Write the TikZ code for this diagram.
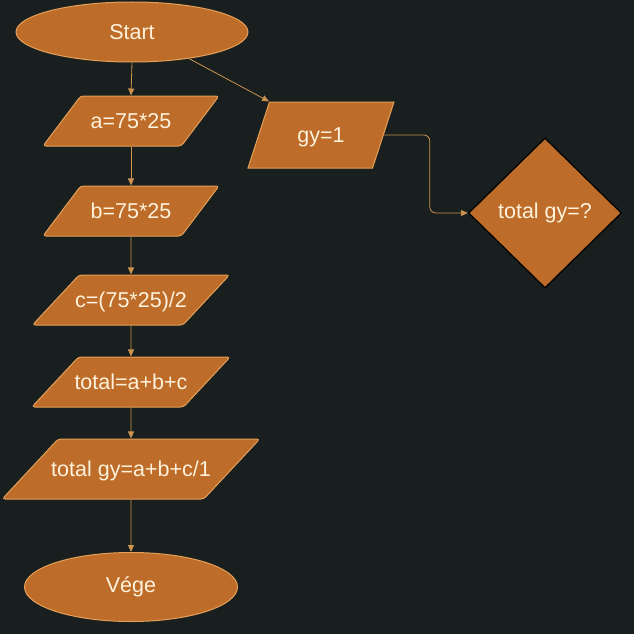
\documentclass[tikz,border=0pt]{standalone}
\usepackage{fontspec}
\setmainfont{Liberation Sans}
\usepackage{tikz}
\usetikzlibrary{shapes.geometric, arrows.meta, positioning, calc}
\definecolor{BgColor}{RGB}{24,31,30}
\definecolor{BoxFill}{RGB}{189,108,41}
\definecolor{BoxLine}{RGB}{228,160,90}
\definecolor{LineColor}{RGB}{204,146,80}
\definecolor{TextColor}{RGB}{255,242,220}
\tikzstyle{shapetext} = [text=TextColor, inner sep=0pt, font=\fontsize{21.5}{25}\selectfont]
\tikzstyle{terminal} = [shapetext, ellipse, draw=BoxLine, fill=BoxFill, line width=1pt]
\tikzstyle{io} = [shapetext, trapezium, trapezium stretches body, trapezium left angle=53, trapezium right angle=127, draw=BoxLine, fill=BoxFill, line width=1pt, rounded corners=3pt, text height=15.5pt, text depth=0pt, inner ysep=17.25pt, minimum width=176pt]
\tikzstyle{decision} = [shapetext, diamond, draw=black, fill=BoxFill, line width=1.2pt, minimum width=153pt, minimum height=150pt]
\tikzstyle{connector} = [LineColor, line width=0.8pt, -{Triangle[length=7pt, width=6pt]}]

\begin{document}
\begin{tikzpicture}[x=1pt, y=-1pt]
    % background
    \fill[BgColor] (0,0) rectangle (634,634);
    \useasboundingbox (0,0) rectangle (634,634);

    % main column
    \node[terminal, minimum width=232pt, minimum height=60pt] (start) at (132,32) {Start};
    \node[io] (a) at (131,121) {a=75*25};
    \node[io] (b) at (131,211) {b=75*25};
    \node[io, trapezium left angle=47, trapezium right angle=133, inner xsep=-4pt, minimum width=197pt] (c) at (131,300) {c=(75*25)/2};
    \node[io, trapezium left angle=47, trapezium right angle=133, inner xsep=-4pt, minimum width=197pt] (total) at (131,382) {total=a+b+c};
    \node[io, trapezium left angle=47, trapezium right angle=133, inner ysep=22.25pt, inner xsep=-7pt, minimum width=256pt] (totalgy) at (131,469) {total gy=a+b+c/1};
    \node[terminal, minimum width=213pt, minimum height=69pt] (vege) at (131,587) {Vége};

    % side branch
    \node[io, trapezium left angle=72, trapezium right angle=108, sharp corners, inner ysep=25.25pt, minimum width=146pt] (gy) at (321,135) {gy=1};
    \node[decision] (check) at (545,213) {total gy=?};

    % connectors
    \draw[connector] (start.south) -- (a.north);
    \draw[connector] (a.south) -- (b.north);
    \draw[connector] (b.south) -- (c.north);
    \draw[connector] (c.south) -- (total.north);
    \draw[connector] (total.south) -- (totalgy.north);
    \draw[connector] (totalgy.south) -- (vege.north);
    \draw[connector] (start.-25) -- (gy.top left corner);
    \draw[connector, rounded corners=6pt] (gy.east) -- ++(46,0) |- (check.west);
\end{tikzpicture}
\end{document}
